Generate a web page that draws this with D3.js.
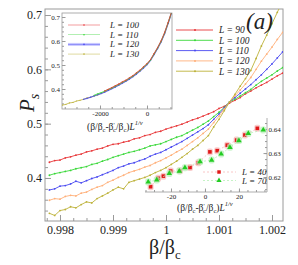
<!DOCTYPE html>
<html><head><meta charset="utf-8">
<script src="https://cdn.jsdelivr.net/npm/d3@7"></script>
<style>body{margin:0;background:#fff}svg{display:block}text{font-family:"Liberation Serif","Times New Roman",serif;fill:#222}</style>
</head><body><svg id="c" width="298" height="265"></svg>
<script>
// ---------- main panel data ----------
const betaRatio = [0.9978,0.9979,0.9980,0.9981,0.9982,0.9983,0.9984,0.9985,0.9986,0.9987,0.9988,0.9989,0.9990,0.9991,0.9992,0.9993,0.9994,0.9995,0.9996,0.9997,0.9998,0.9999,1.0000,1.0001,1.0002,1.0003,1.0004,1.0005,1.0006,1.0007,1.0008,1.0009,1.0010,1.0011,1.0012,1.0013,1.0014,1.0015,1.0016,1.0017,1.0018,1.0019,1.0020,1.0021,1.0022];
const seriesNames = ["L = 90","L = 100","L = 110","L = 120","L = 130"];
const seriesColors = ["#e8383a","#3ad83a","#4a4af0","#ffb07a","#bdb23a"];
const Ps90  = [.429,.432,.433,.437,.439,.442,.444,.448,.450,.453,.455,.459,.462,.463,.466,.468,.472,.474,.478,.480,.484,.486,.490,.493,.496,.499,.503,.507,.510,.514,.518,.522,.528,.532,.538,.543,.548,.555,.560,.566,.571,.576,.582,.588,.593];
const Ps100 = [.405,.408,.410,.412,.414,.417,.419,.421,.425,.427,.431,.434,.438,.441,.444,.447,.449,.452,.455,.459,.461,.463,.467,.471,.475,.478,.483,.488,.493,.499,.505,.513,.521,.530,.540,.545,.551,.557,.563,.571,.578,.584,.590,.597,.603];
const Ps110 = [.378,.380,.385,.386,.389,.394,.391,.395,.399,.402,.406,.410,.414,.419,.422,.426,.428,.432,.435,.440,.444,.447,.452,.457,.462,.467,.473,.479,.485,.491,.498,.508,.518,.529,.540,.548,.556,.564,.572,.581,.590,.600,.610,.621,.632];
const Ps120 = [.359,.362,.361,.366,.368,.367,.372,.374,.379,.383,.386,.392,.396,.401,.405,.410,.413,.416,.420,.423,.428,.432,.437,.442,.448,.453,.460,.467,.474,.482,.490,.502,.514,.527,.540,.551,.562,.573,.585,.600,.615,.628,.641,.655,.668];
const Ps130 = [.335,.331,.340,.342,.347,.345,.351,.356,.354,.362,.367,.372,.378,.383,.380,.392,.395,.398,.401,.405,.410,.414,.419,.425,.431,.438,.445,.453,.460,.469,.478,.494,.508,.524,.540,.554,.569,.583,.598,.620,.643,.663,.684,.705,.725];
const mainSeries = [Ps90,Ps100,Ps110,Ps120,Ps130];
const mainXTicks = [0.998,0.999,1,1.001,1.002];
const mainXTickLabels = ["0.998","0.999","1","1.001","1.002"];
const mainYTicks = [0.4,0.5,0.6,0.7];
const mainYTickLabels = ["0.4","0.5","0.6","0.7"];

// ---------- inset 1 (scaling collapse) ----------
const collapseX = [-3600,-3450,-3300,-3150,-3000,-2850,-2700,-2550,-2400,-2250,-2100,-1950,-1800,-1650,-1500,-1350,-1200,-1050,-900,-750,-600,-450,-300,-150,0,150,300,450,600,750,900,1050];
const inset1Names = ["L = 100","L = 110","L = 120","L = 130"];
const inset1Colors = ["#e8383a","#3ad83a","#4a4af0","#bdb23a"];
const c100 = [null,null,null,null,null,null,null,null,null,null,null,null,.392,.399,.406,.414,.421,.430,.437,.447,.456,.468,.479,.493,.506,.523,.548,.573,.601,.636,.678,.723];
const c110 = [null,null,null,null,null,null,null,null,null,.374,.380,.385,.391,.398,.404,.412,.419,.428,.435,.445,.454,.466,.477,.491,.504,.521,.546,.571,.599,.634,.676,.721];
const c120 = [null,null,null,null,null,null,.357,.361,.366,.371,.376,.381,.387,.394,.401,.408,.416,.424,.432,.441,.451,.462,.474,.487,.501,.519,.543,.568,.596,.630,.673,.718];
const c130 = [.333,.336,.342,.344,.350,.353,.357,.363,.365,.371,.375,.382,.388,.395,.402,.409,.417,.425,.433,.442,.452,.463,.475,.488,.502,.520,.544,.569,.597,.631,.674,.719];
const inset1Series = [c100,c110,c120,c130];
const inset1XTicks = [-2000,0];
const inset1YTicks = [0.4,0.5,0.6,0.7];

// ---------- inset 2 (small sizes) ----------
const L40x = [-32,-27.5,-24.5,-20.2,-14.7,-8.8,-3.9,2.9,7.2,13.1,18.6,23.5,30.8];
const L40y = [.6160,.6195,.6204,.6225,.6226,.6240,.6260,.6305,.6310,.6333,.6354,.6375,.6403];
const L70x = [-33.4,-28.4,-21,-15.1,-11.8,-2.9,3.9,9.5,14.7,20,25.5,34.3];
const L70y = [.6180,.6188,.6215,.6225,.6239,.6264,.6271,.6296,.6324,.6352,.6382,.6396];
const inset2Names = ["L = 40","L = 70"];
const inset2XTicks = [-20,0,20];
const inset2YTicks = [0.62,0.63,0.64];

const svg = d3.select("#c");
const AX = "#9a9a9a";

// ---------- main axes ----------
const x = d3.scaleLinear().domain([0.997717,1.0022075]).range([45,283]);
const y = d3.scaleLinear().domain([0.3208,0.7111]).range([221,9]);

svg.append("rect").attr("x",45).attr("y",9).attr("width",238).attr("height",212)
  .attr("fill","none").attr("stroke",AX).attr("stroke-width",1);

function styleAxis(g){ g.selectAll("path,line").attr("stroke",AX); g.select(".domain").remove(); }

const mainG = svg.append("g");
mainG.append("g").attr("transform","translate(0,221)")
  .call(d3.axisBottom(x).tickValues(d3.range(0.99775,1.0022,0.00025)).tickSize(-3).tickFormat(""))
  .call(styleAxis);
mainG.append("g").attr("transform","translate(0,221)")
  .call(d3.axisBottom(x).tickValues(mainXTicks).tickSize(-6).tickPadding(4).tickFormat((d,i)=>mainXTickLabels[i]))
  .call(styleAxis).call(g=>g.selectAll("text").attr("font-size",12).style("font-family","Liberation Serif"));
mainG.append("g").attr("transform","translate(45,0)")
  .call(d3.axisLeft(y).tickValues(d3.range(0.34,0.71,0.02)).tickSize(-3).tickFormat(""))
  .call(styleAxis);
mainG.append("g").attr("transform","translate(45,0)")
  .call(d3.axisLeft(y).tickValues(mainYTicks).tickSize(-6).tickPadding(3).tickFormat((d,i)=>mainYTickLabels[i]))
  .call(styleAxis).call(g=>g.selectAll("text").attr("font-size",12).style("font-family","Liberation Serif"));

svg.append("clipPath").attr("id","mclip").append("rect").attr("x",45).attr("y",9).attr("width",238).attr("height",212);
const plot = svg.append("g").attr("clip-path","url(#mclip)");
const line = d3.line().x((d,i)=>x(betaRatio[i])).y(d=>y(d));
mainSeries.forEach((s,k)=>{
  plot.append("path").datum(s).attr("d",line).attr("fill","none").attr("stroke",seriesColors[k]).attr("stroke-width",0.9);
  plot.selectAll(null).data(s).enter().append("circle").attr("cx",(d,i)=>x(betaRatio[i])).attr("cy",d=>y(d)).attr("r",0.9).attr("fill",seriesColors[k]);
});

// axis labels
const ylab = svg.append("text").attr("transform","translate(34,112) rotate(-90)").attr("font-size",21).attr("font-style","italic");
ylab.append("tspan").text("P");
ylab.append("tspan").attr("font-size",14).attr("dy",5).text("s");
const xlab = svg.append("text").attr("x",149).attr("y",254).attr("font-size",20);
xlab.append("tspan").text("β/β");
xlab.append("tspan").attr("font-size",13).attr("dy",5).text("c");

svg.append("text").attr("x",246).attr("y",29).attr("font-size",23).attr("font-style","italic").text("(a)");

// main legend
seriesNames.forEach((n,k)=>{
  const yy = 30 + k*10.3;
  svg.append("line").attr("x1",176).attr("x2",213).attr("y1",yy).attr("y2",yy).attr("stroke",seriesColors[k]).attr("stroke-width",0.9);
  svg.append("circle").attr("cx",195).attr("cy",yy).attr("r",1).attr("fill",seriesColors[k]);
  svg.append("text").attr("x",219).attr("y",yy+3.3).attr("font-size",9.5).attr("font-style","italic").text(n);
});

// ---------- inset 1 ----------
const x1 = d3.scaleLinear().domain([-3617,1064]).range([62,172]);
const y1 = d3.scaleLinear().domain([0.3167,0.7167]).range([109,13]);
svg.append("rect").attr("x",62).attr("y",13).attr("width",110).attr("height",96).attr("fill","#fff").attr("stroke",AX).attr("stroke-width",0.8);
svg.append("g").attr("transform","translate(0,109)")
  .call(d3.axisBottom(x1).tickValues(d3.range(-3500,1001,500)).tickSize(-2).tickFormat("")).call(styleAxis);
svg.append("g").attr("transform","translate(0,109)")
  .call(d3.axisBottom(x1).tickValues(inset1XTicks).tickSize(-3.5).tickPadding(2).tickFormat(d=>d===0?"0":"-2000"))
  .call(styleAxis).call(g=>g.selectAll("text").attr("font-size",7).style("font-family","Liberation Serif"));
svg.append("g").attr("transform","translate(62,0)")
  .call(d3.axisLeft(y1).tickValues(d3.range(0.34,0.71,0.02)).tickSize(-2).tickFormat("")).call(styleAxis);
svg.append("g").attr("transform","translate(62,0)")
  .call(d3.axisLeft(y1).tickValues(inset1YTicks).tickSize(-3.5).tickPadding(2).tickFormat(d3.format(".1f")))
  .call(styleAxis).call(g=>g.selectAll("text").attr("font-size",7).style("font-family","Liberation Serif"));
svg.append("clipPath").attr("id","c1").append("rect").attr("x",62).attr("y",13).attr("width",110).attr("height",96);
const p1 = svg.append("g").attr("clip-path","url(#c1)");
const line1 = d3.line().defined(d=>d!=null).x((d,i)=>x1(collapseX[i])).y(d=>y1(d));
p1.append("path").datum(c120).attr("d",line1).attr("fill","none").attr("stroke","#d6d6ff").attr("stroke-width",1.6);
[3,2,1,0].forEach(k=>{
  const s = inset1Series[k];
  p1.append("path").datum(s).attr("d",line1).attr("fill","none").attr("stroke",inset1Colors[k]).attr("stroke-width",0.8);
  p1.selectAll(null).data(s.map((v,i)=>[collapseX[i],v]).filter(d=>d[1]!=null)).enter().append("circle")
    .attr("cx",d=>x1(d[0])).attr("cy",d=>y1(d[1])).attr("r",0.6).attr("fill",inset1Colors[k]);
});
inset1Names.forEach((n,k)=>{
  const yy = 25 + k*9.7;
  if(k===2) svg.append("line").attr("x1",68).attr("x2",100).attr("y1",yy).attr("y2",yy).attr("stroke","#c8c8ff").attr("stroke-width",3);
  svg.append("line").attr("x1",68).attr("x2",100).attr("y1",yy).attr("y2",yy).attr("stroke",inset1Colors[k]).attr("stroke-width",0.6).attr("opacity",0.8);
  svg.append("circle").attr("cx",84).attr("cy",yy).attr("r",0.8).attr("fill",inset1Colors[k]);
  svg.append("text").attr("x",110).attr("y",yy+3).attr("font-size",9).attr("font-style","italic").text(n);
});
function scaledLabel(xx,yy){
  const t = svg.append("text").attr("x",xx).attr("y",yy).attr("font-size",9.5);
  t.append("tspan").text("(β/β");
  t.append("tspan").attr("font-size",6.5).attr("dy",2).text("c");
  t.append("tspan").attr("dy",-2).text("-β");
  t.append("tspan").attr("font-size",6.5).attr("dy",-3).text("'");
  t.append("tspan").attr("font-size",6.5).attr("dy",5).attr("dx",-1.5).text("c");
  t.append("tspan").attr("dy",-2).text("/β");
  t.append("tspan").attr("font-size",6.5).attr("dy",2).text("c");
  t.append("tspan").attr("dy",-2).text(")");
  t.append("tspan").attr("font-style","italic").text("L");
  t.append("tspan").attr("font-size",6.5).attr("font-style","italic").attr("dy",-5).text("1/ν");
}
scaledLabel(87,130);

// ---------- inset 2 ----------
const x2 = d3.scaleLinear().domain([-35.3,36.5]).range([145,267]);
const y2 = d3.scaleLinear().domain([0.6138,0.6446]).range([192,118]);
svg.append("line").attr("x1",145).attr("x2",267).attr("y1",192).attr("y2",192).attr("stroke",AX).attr("stroke-width",0.8);
svg.append("line").attr("x1",267).attr("x2",267).attr("y1",118).attr("y2",192).attr("stroke",AX).attr("stroke-width",0.8);
svg.append("g").attr("transform","translate(0,192)")
  .call(d3.axisBottom(x2).tickValues(d3.range(-35,36,5)).tickSize(-2).tickFormat("")).call(styleAxis);
svg.append("g").attr("transform","translate(0,192)")
  .call(d3.axisBottom(x2).tickValues(inset2XTicks).tickSize(-3.5).tickPadding(2).tickFormat(d=>d<0?"-20":String(d)))
  .call(styleAxis).call(g=>g.selectAll("text").attr("font-size",7).style("font-family","Liberation Serif"));
svg.append("g").attr("transform","translate(267,0)")
  .call(d3.axisRight(y2).tickValues(d3.range(0.615,0.6446,0.0025)).tickSize(-2).tickFormat("")).call(styleAxis);
svg.append("g").attr("transform","translate(267,0)")
  .call(d3.axisRight(y2).tickValues(inset2YTicks).tickSize(-3.5).tickPadding(1.5).tickFormat(d3.format(".2f")))
  .call(styleAxis).call(g=>g.selectAll("text").attr("font-size",7).style("font-family","Liberation Serif"));
const sets = [
  {xs:L40x, ys:L40y, c:"#e01818", light:"#f7b8b8", shape:d3.symbolSquare},
  {xs:L70x, ys:L70y, c:"#22cc22", light:"#b8f0b8", shape:d3.symbolTriangle}
];
sets.forEach(s=>{
  const pts = s.xs.map((v,i)=>[x2(v),y2(s.ys[i])]);
  svg.append("path").attr("d",d3.line()(pts)).attr("fill","none").attr("stroke",s.light).attr("stroke-width",0.8).attr("stroke-dasharray","2,2");
  pts.forEach(p=>{
    svg.append("rect").attr("x",p[0]-3).attr("y",p[1]-3.5).attr("width",6).attr("height",7).attr("rx",2).attr("fill",s.light).attr("opacity",0.7);
    svg.append("path").attr("transform",`translate(${p[0]},${p[1]})`).attr("d",d3.symbol(s.shape,13)()).attr("fill",s.c);
  });
});
inset2Names.forEach((n,k)=>{
  const yy = 172 + k*8.5, s = sets[k];
  svg.append("line").attr("x1",203).attr("x2",236).attr("y1",yy).attr("y2",yy).attr("stroke",s.light).attr("stroke-width",0.8).attr("stroke-dasharray","2,2");
  svg.append("path").attr("transform",`translate(219,${yy})`).attr("d",d3.symbol(s.shape,12)()).attr("fill",s.c);
  svg.append("text").attr("x",242).attr("y",yy+3).attr("font-size",9).attr("font-style","italic").text(n);
});
scaledLabel(177,211);
</script></body></html>
